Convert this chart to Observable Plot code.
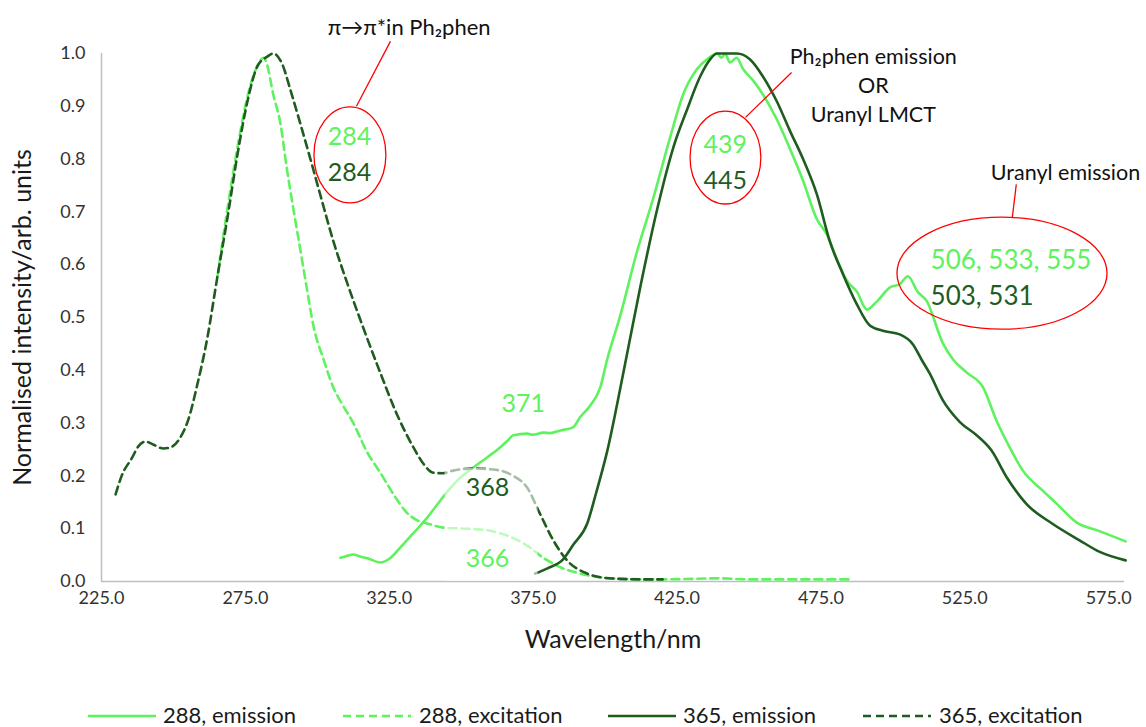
<!DOCTYPE html>
<html><head><meta charset="utf-8">
<script src="https://cdn.jsdelivr.net/npm/d3@7"></script>
<script src="https://cdn.jsdelivr.net/npm/@observablehq/plot@0.6"></script>
<style>
body{margin:0;background:#fff;font-family:Lato,"Open Sans",sans-serif;}
#wrap{position:relative;width:1146px;height:727px;overflow:hidden;}
#legend{position:absolute;top:703px;left:0;width:1146px;height:24px;font-size:22px;color:#1a1a1a;}
.item{position:absolute;top:0;height:24px;line-height:24px;white-space:nowrap;}
.item svg{position:absolute;top:0;left:0}
</style></head><body><div id="wrap"><div id="chart"></div><div id="legend"></div></div>
<script>
// ---- data (wavelength / nm, normalised intensity) ----
const em288Wl = [308,310,312.5,315,317.4,321.9,325.3,328.8,333.3,338.2,342.7,345.5,348.6,354.2,359,363.5,366,368.1,372.9,375,378.5,381,384.4,388.9,391.3,394.8,398.3,400.7,405.2,411.1,416.7,422.6,427.1,431.9,435.4,438.9,440.5,441.7,443.4,445.7,448,451.4,454.9,459.7,464.2,468.8,473.6,477.1,480.6,484,487.5,491,494.4,499,502.4,505.2,508.7,511.7,517.4,521,525.6,531.3,536,540.6,545.2,552.1,556.8,563.8,572,580.9];
const em288Int = [0.045,0.048,0.051,0.047,0.044,0.036,0.044,0.064,0.091,0.121,0.153,0.172,0.191,0.216,0.235,0.254,0.266,0.277,0.28,0.278,0.282,0.281,0.286,0.292,0.311,0.333,0.367,0.42,0.502,0.625,0.725,0.841,0.922,0.97,0.989,1.0,0.992,1.0,0.983,0.992,0.97,0.949,0.922,0.875,0.82,0.759,0.686,0.657,0.61,0.57,0.549,0.515,0.53,0.557,0.563,0.578,0.548,0.532,0.451,0.42,0.396,0.368,0.305,0.254,0.21,0.172,0.148,0.112,0.095,0.076];

const ex288Wl = [265.3,268.6,272.5,276.5,279.5,281.3,282.3,284.7,287.2,289.3,291.7,294.2,296.3,298.7,302.2,305.6,308.1,312.6,317.2,322,326.5,331,335,338.2,343.8,352.1,359,366,372.9,378.5,384.4,391.3,398.3,405,420,440,450,470,485];
const ex288Int = [0.578,0.70,0.83,0.935,0.98,0.992,0.983,0.922,0.867,0.786,0.705,0.625,0.557,0.483,0.42,0.367,0.341,0.299,0.246,0.205,0.165,0.131,0.115,0.11,0.102,0.10,0.097,0.087,0.068,0.045,0.027,0.015,0.008,0.005,0.004,0.006,0.004,0.004,0.004];

const em365Wl = [375.7,380,385.4,389,393.8,397,400.7,406.3,412.2,418.1,423.6,428.5,433,436.5,438.9,445.8,450.3,454.9,459.7,464.2,468.8,473.6,478.1,482.6,487.5,492,496.5,502.4,507,510,512.8,517.4,523.3,529.1,534.3,539.5,546.4,555.6,564.9,571.9,580.9];
const em365Int = [0.015,0.025,0.042,0.07,0.11,0.17,0.246,0.394,0.557,0.705,0.82,0.894,0.956,0.989,1.0,1.0,0.989,0.956,0.909,0.854,0.80,0.733,0.644,0.583,0.525,0.485,0.475,0.468,0.449,0.42,0.394,0.343,0.302,0.277,0.248,0.198,0.147,0.109,0.078,0.056,0.04];

const ex365Wl = [229.9,232,235.7,237.8,240.3,243.1,246.5,249,252.4,255.2,258.3,261.8,265.3,268.8,272.2,275.7,279.2,282.6,284.7,287.8,290.6,294.1,297.6,301,305.6,310.4,316,321.9,327.8,333.3,337,340.3,343.5,347.2,354.2,361.1,365,368.1,372.9,377.4,382,386.8,393.8,398.3,405,412,420];
const ex365Int = [0.165,0.2,0.235,0.256,0.265,0.259,0.252,0.254,0.273,0.307,0.373,0.462,0.578,0.69,0.807,0.909,0.976,0.994,1.0,0.98,0.932,0.867,0.80,0.733,0.644,0.565,0.48,0.395,0.315,0.255,0.222,0.206,0.205,0.21,0.214,0.212,0.208,0.20,0.178,0.128,0.078,0.04,0.015,0.008,0.005,0.004,0.004];

const seriesNames = ["288, emission", "288, excitation", "365, emission", "365, excitation"];
const xTicks = [225, 275, 325, 375, 425, 475, 525, 575];
const yTicks = [0, 0.1, 0.2, 0.3, 0.4, 0.5, 0.6, 0.7, 0.8, 0.9, 1.0];

// annotation texts
const peakLabelsLight = [{x: 311.2, y: 0.841, t: "284"}, {x: 441.8, y: 0.826, t: "439"}, {x: 371.6, y: 0.337, t: "371"}, {x: 359.1, y: 0.042, t: "366"}];
const peakLabelsDark = [{x: 311.2, y: 0.773, t: "284"}, {x: 441.8, y: 0.759, t: "445"}, {x: 359.1, y: 0.178, t: "368"}];
const uranylLight = [{x: 513.1, y: 0.608, t: "506, 533, 555"}];
const uranylDark = [{x: 513.1, y: 0.54, t: "503, 531"}];
const titleNote = [{x: 331.9, y: 1.049, t: "π→π*in Ph₂phen"}];
const noteTexts = [
  {x: 493.2, y: 0.994, t: "Ph₂phen emission"},
  {x: 493.2, y: 0.939, t: "OR"},
  {x: 493.2, y: 0.883, t: "Uranyl LMCT"},
  {x: 560.0, y: 0.773, t: "Uranyl emission"}
];
const leaderLines = [
  {x1: 325.4, y1: 1.023, x2: 313.6, y2: 0.90},
  {x1: 448.8, y1: 0.879, x2: 464.8, y2: 0.964},
  {x1: 542.9, y1: 0.752, x2: 541.5, y2: 0.689}
];
const ellipseSpecs = [
  {x: 311.5, y: 0.807, rx: 12.5, ry: 0.091},
  {x: 442.0, y: 0.802, rx: 12.3, ry: 0.088},
  {x: 538.1, y: 0.583, rx: 36.5, ry: 0.106}
];
const labelBox = [{x1: 344.4, x2: 376.7, y1: 0.0, y2: 0.214}];

// ---- styles ----
const LIGHT = "#5ef25e", DARK = "#1f5c1f";
const styles = [
  {color: LIGHT, dash: null},
  {color: LIGHT, dash: "8,5"},
  {color: DARK, dash: null},
  {color: DARK, dash: "8,5"}
];
const series = [[em288Wl, em288Int], [ex288Wl, ex288Int], [em365Wl, em365Int], [ex365Wl, ex365Int]];
const rows = series.map(([w, v], k) => w.map((x, i) => ({series: seriesNames[k], wl: x, v: v[i]})));

function ellipseMark(index, scales) {
  const g = d3.create("svg:g");
  for (const e of ellipseSpecs) {
    const cx = scales.x(e.x), cy = scales.y(e.y);
    const rx = Math.abs(scales.x(e.x + e.rx) - cx), ry = Math.abs(scales.y(e.y + e.ry) - cy);
    g.append("ellipse").attr("cx", cx).attr("cy", cy).attr("rx", rx).attr("ry", ry)
      .attr("fill", "none").attr("stroke", "#ff0000").attr("stroke-width", 1.3);
  }
  return g.node();
}

const chart = Plot.plot({
  width: 1146, height: 690,
  marginLeft: 101, marginRight: 22, marginTop: 53, marginBottom: 109,
  x: {domain: [225, 580.5]},
  y: {domain: [0, 1]},
  style: {fontFamily: "Lato, 'Open Sans', sans-serif", fontSize: "18px", color: "#333", background: "white", overflow: "visible"},
  marks: [
    Plot.axisX({ticks: xTicks, tickFormat: d => d.toFixed(1), tickSize: 0, tickPadding: 10, label: null}),
    Plot.axisY({ticks: yTicks, tickFormat: d => d.toFixed(1), tickSize: 0, tickPadding: 16, label: null}),
    Plot.ruleY([0], {stroke: "#bfbfbf", strokeWidth: 1.5}),
    Plot.ruleX([225], {stroke: "#bfbfbf", strokeWidth: 1.5}),
    ...rows.map((r, k) => Plot.line(r, {x: "wl", y: "v", stroke: styles[k].color, strokeWidth: 2.6,
      strokeDasharray: styles[k].dash, curve: "monotone-x"})),
    Plot.rect(labelBox, {x1: "x1", x2: "x2", y1: "y1", y2: "y2", fill: "white", fillOpacity: 0.6}),
    ellipseMark,
    Plot.link(leaderLines, {x1: "x1", y1: "y1", x2: "x2", y2: "y2", stroke: "#ff0000", strokeWidth: 1.3}),
    Plot.text(peakLabelsLight, {x: "x", y: "y", text: "t", fill: LIGHT, fontSize: 25}),
    Plot.text(peakLabelsDark, {x: "x", y: "y", text: "t", fill: DARK, fontSize: 25}),
    Plot.text(uranylLight, {x: "x", y: "y", text: "t", fill: LIGHT, fontSize: 26, textAnchor: "start"}),
    Plot.text(uranylDark, {x: "x", y: "y", text: "t", fill: DARK, fontSize: 26, textAnchor: "start"}),
    Plot.text(titleNote, {x: "x", y: "y", text: "t", fill: "#111", fontSize: 22}),
    Plot.text(noteTexts, {x: "x", y: "y", text: "t", fill: "#111", fontSize: 21.5}),
    Plot.text(["Normalised intensity/arb. units"], {frameAnchor: "left", dx: -79, rotate: -90, textAnchor: "middle", fontSize: 25, fill: "#1a1a1a"}),
    Plot.text(["Wavelength/nm"], {frameAnchor: "bottom", dy: 66, textAnchor: "middle", fontSize: 25, fill: "#1a1a1a"})
  ]
});
document.getElementById("chart").appendChild(chart);

// ---- legend (below the SVG) ----
const legendX = [[88, 163], [343, 419], [608, 683], [863, 939]];
const legend = document.getElementById("legend");
seriesNames.forEach((name, k) => {
  const s = document.createElement("div");
  s.className = "item"; s.style.left = legendX[k][0] + "px"; s.style.width = "68px";
  s.innerHTML = `<svg width="68" height="24"><line x1="0" x2="68" y1="13" y2="13" stroke="${styles[k].color}" stroke-width="2.6" ${styles[k].dash ? `stroke-dasharray="${styles[k].dash}"` : ""}/></svg>`;
  legend.appendChild(s);
  const t = document.createElement("div");
  t.className = "item"; t.style.left = legendX[k][1] + "px"; t.textContent = name;
  legend.appendChild(t);
});
</script></body></html>
